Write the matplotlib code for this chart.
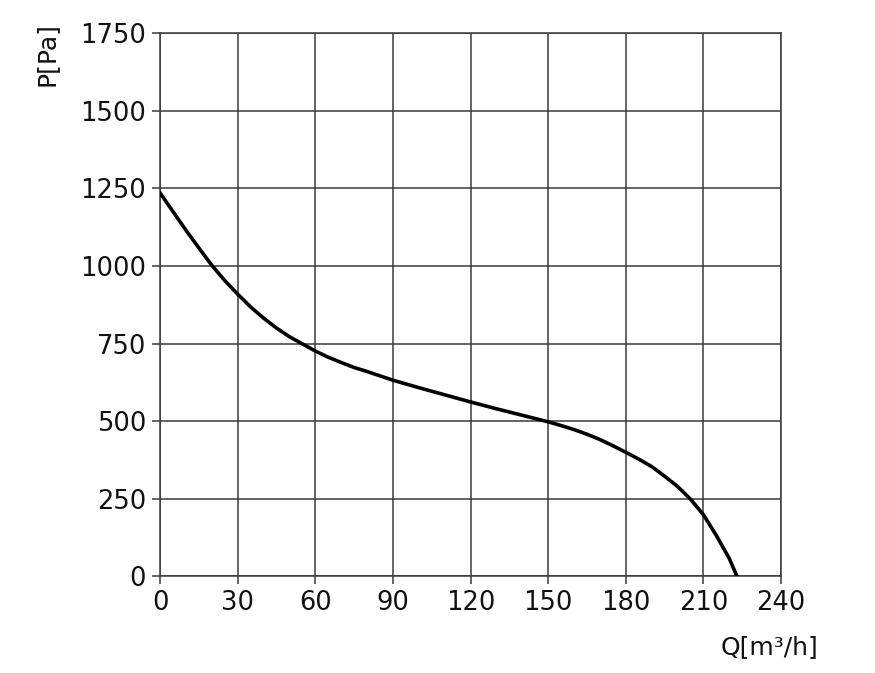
import matplotlib
matplotlib.use('Agg')
import matplotlib.pyplot as plt

# 风机性能曲线 Q-P
flow = [0, 5, 10, 15, 20, 25, 30, 35, 40, 45, 50, 55, 60, 65, 70, 75, 80,
        90, 100, 110, 120, 130, 140, 150, 155, 160, 165, 170, 175, 180, 185,
        190, 195, 200, 205, 210, 215, 220, 223]
pressure = [1235, 1175, 1115, 1058, 1002, 953, 909, 868, 832, 800, 772, 749,
            726, 706, 689, 673, 660, 632, 608, 585, 562, 540, 519, 498, 486,
            473, 458, 441, 421, 400, 378, 354, 323, 290, 249, 199, 132, 58, 0]

x_ticks = list(range(0, 241, 30))
y_ticks = list(range(0, 1751, 250))

grid_color = '#3a3a3a'

fig = plt.figure(figsize=(8.75, 6.73), dpi=100)
ax = fig.add_axes([0.1829, 0.1434, 0.7097, 0.8076])

ax.plot(flow, pressure, color='black', linewidth=2.6, zorder=3)

ax.set_xlim(0, 240)
ax.set_ylim(0, 1750)
ax.set_xticks(x_ticks)
ax.set_yticks(y_ticks)
ax.grid(True, color=grid_color, linewidth=1.1)
ax.set_axisbelow(True)
for s in ax.spines.values():
    s.set_color(grid_color)
    s.set_linewidth(1.1)
ax.tick_params(direction='out', length=6, width=1.1, color=grid_color,
               labelsize=18.5, pad=4, labelcolor='#111111')

fig.text(47 / 875, 1 - 54 / 673, 'P[Pa]', rotation=90, ha='center', va='center',
         fontsize=18, color='#111111')
fig.text(770 / 875, 1 - 647 / 673, 'Q[m³/h]', ha='center', va='center',
         fontsize=18, color='#111111')

fig.savefig('out.png', dpi=100)
